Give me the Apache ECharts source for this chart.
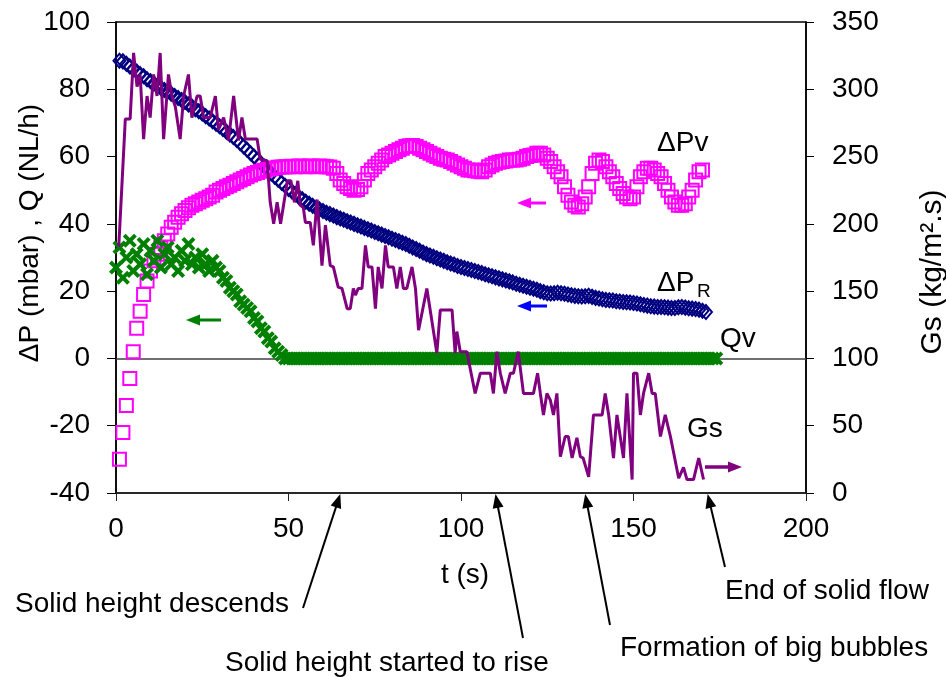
<!DOCTYPE html>
<html><head><meta charset="utf-8">
<script src="https://cdn.jsdelivr.net/npm/echarts@6/dist/echarts.min.js"></script>
<style>html,body{margin:0;padding:0;background:#fff}#c{width:946px;height:677px}</style>
</head><body><div id="c"></div>
<script>
// ---------------- DATA ----------------
// ΔPv (mbar), sampled each second from t = 1 s
const pvStart = 1;
const deltaPv = [
 -30,-22,-14,-6,2,9,14,19,23,26,
 29,31,33,35,37,39,40.5,42,43,44,
 44.8,45.5,46,46.5,47,47.5,48,48.5,49.5,50,
 50.5,51,51.5,52,52.5,53,53.5,54,54.5,55,
 55.3,55.6,55.9,56.2,56.4,56.6,56.8,56.9,57,57,
 57.1,57,57.2,57.1,57,57.2,57.1,57,57.2,57.1,
 57,56.9,56.5,55,53,52,51,50.5,50,50.2,
 51,53,55,56,57,58,59,60,60.5,61,
 61.5,62,62.5,63,63.2,63.3,63,62.5,62,61.5,
 61,60.5,60,59.5,59.2,59,58.5,58,57.5,57,
 56.5,56,56,55.8,55.6,55.5,56,57,57.5,58,
 58.3,58.5,58.7,59,59,59,59.2,59.5,60,60.3,
 60.5,61,61,60.5,59.5,58.5,57,55.5,54,51,
 48.5,46.5,45.5,45,46,48,51,55,58,59,
 58.5,57,55.5,54,52,50.5,49,48,47.5,48,
 51,54,55.5,56.5,56.5,56,55,54,52,50,
 48,46.5,45.5,45.5,46,48,50,53,55.5,56
];
// ΔPR (mbar), sampled each second from t = 1 s
const prStart = 1;
const deltaPR = [
 88.5,88.3,87.6,86.8,86.0,85.3,84.5,83.9,83.0,82.4,
 81.7,81.0,80.4,79.8,79.3,78.7,78.0,77.4,76.8,76.2,
 75.5,74.9,74.1,73.5,72.8,72.0,71.3,70.5,69.8,69.0,
 68.2,67.4,66.6,65.8,64.9,64.0,63.0,62.0,61.0,60.0,
 59.0,58.0,57.0,56.0,55.0,54.0,53.1,52.2,51.3,50.4,
 49.6,48.8,48.0,47.3,46.6,46.0,45.4,44.8,44.3,43.8,
 43.3,42.9,42.5,42.0,41.6,41.2,40.8,40.4,40.0,39.6,
 39.2,38.8,38.4,38.0,37.6,37.2,36.8,36.4,36.0,35.6,
 35.2,34.8,34.4,34.0,33.5,33.0,32.5,32.0,31.5,31.0,
 30.6,30.2,29.8,29.4,29.0,28.6,28.2,27.9,27.5,27.2,
 26.9,26.6,26.3,26.0,25.7,25.4,25.0,24.7,24.4,24.1,
 23.8,23.5,23.2,22.9,22.6,22.2,21.9,21.6,21.3,21.0,
 20.7,20.4,20.0,19.7,19.4,19.3,19.4,19.5,19.4,19.2,
 19.0,18.8,18.6,18.5,18.4,18.5,18.6,18.3,18.0,17.8,
 17.6,17.4,17.3,17.2,17.0,16.9,16.8,16.7,16.6,16.5,
 16.3,16.1,15.9,15.7,15.5,15.4,15.3,15.3,15.2,15.1,
 15.0,15.0,15.2,15.3,15.1,14.9,14.8,14.7,14.5,14.2,
 13.8
];
// Qv (NL/h), sampled each second from t = 0 s
const qvStart = 0;
const qv = [
 27,33,24,30,35,26,31,28,34,25,
 32,29,35,27,31,33,28,30,26,32,
 29,34,28,30,27,31,28,26,29,27,
 26,24,23,21,20,19,17,16,15,14,
 12,11,9,8,6,5,3,2,1,
 0,0,0,0,0,0,0,0,0,0,0,0,0,0,0,0,0,0,0,0,
 0,0,0,0,0,0,0,0,0,0,0,0,0,0,0,0,0,0,0,0,
 0,0,0,0,0,0,0,0,0,0,0,0,0,0,0,0,0,0,0,0,
 0,0,0,0,0,0,0,0,0,0,0,0,0,0,0,0,0,0,0,0,
 0,0,0,0,0,0,0,0,0,0,0,0,0,0,0,0,0,0,0,0,
 0,0,0,0,0,0,0,0,0,0,0,0,0,0,0,0,0,0,0,0,
 0,0,0,0,0,0
];
// Gs (kg/m².s) read at irregular times
const gsTime = [
 0.8,2.7,4.1,5.1,6.1,7.0,8.0,9.0,9.9,10.9,11.9,12.8,13.8,15.2,16.2,17.2,18.6,19.6,21.0,22.0,
 23.5,24.4,25.4,27.3,28.8,29.7,31.2,32.6,34.1,35.5,36.5,37.5,40.9,41.8,43.8,44.7,45.7,46.7,47.7,48.7,
 49.7,50.7,51.7,52.7,53.4,54.3,54.9,56.3,57.2,58.3,59.7,60.7,62.1,63.0,64.4,65.5,67.0,67.9,68.8,69.4,
 70.2,71.3,72.3,73.1,74.2,75.2,76.0,77.1,78.1,78.9,80.4,81.4,82.4,83.3,84.3,85.8,86.8,87.7,90.1,93.0,
 94.0,97.4,98.3,98.8,99.8,101.7,104.1,105.6,108.5,109.4,110.4,111.4,112.8,114.3,115.2,116.6,118.1,121.0,122.2,123.0,
 123.9,124.9,125.9,126.8,127.8,128.8,130.2,131.1,132.2,133.6,134.6,135.4,137.0,138.4,140.9,141.8,142.8,144.2,145.2,147.1,
 148.1,149.6,150.0,151.0,152.0,152.9,154.4,155.4,156.3,157.8,159.2,160.7,161.2,163.1,164.5,165.5,167.4,168.9,170.3
];
const gsValue = [
 183,278,278,327,302,311,263,295,279,311,295,327,263,311,295,287,263,295,311,279,
 295,295,279,279,295,270,279,262,295,262,279,263,263,248,247,216,200,216,200,216,
 232,232,216,232,214,212,201,201,184,218,169,199,169,168,153,152,137,137,152,147,
 152,152,184,168,168,137,168,152,184,168,168,152,168,152,152,168,152,121,152,104,
 136,136,104,120,105,105,74,89,89,74,105,89,74,89,89,105,74,74,89,74,
 58,74,69,58,74,27,42,42,26,41,27,26,12,58,58,74,58,26,58,26,
 74,10,89,89,58,74,89,74,74,42,58,42,42,11,19,10,10,26,10
];
// annotation arrows: time (s) each arrow points at
const noteTimes = [65, 110, 136, 171.5];
const noteTexts = ['Solid height descends', 'Solid height started to rise', 'Formation of big bubbles', 'End of solid flow'];

// ---------------- CHART ----------------
const FONT = '"Liberation Sans", Arial, sans-serif';
const pairs = (t0, arr) => arr.map((v, i) => [t0 + i, v]);
const chart = echarts.init(document.getElementById('c'), null, {renderer: 'canvas'});
const lbl = {color: '#000', fontSize: 28, fontFamily: FONT};
const xPath = 'path://M0,2L2,0L5,3L8,0L10,2L7,5L10,8L8,10L5,7L2,10L0,8L3,5Z';

chart.setOption({
  animation: false,
  backgroundColor: '#fff',
  grid: {left: 116, right: 140, top: 22, bottom: 184, show: true, borderColor: '#000', borderWidth: 1.5, backgroundColor: 'transparent'},
  xAxis: {
    type: 'value', min: 0, max: 200, interval: 50,
    axisLine: {onZero: false, lineStyle: {color: '#222', width: 1.5}},
    axisTick: {show: true, length: 8, lineStyle: {color: '#222', width: 1}},
    axisLabel: Object.assign({margin: 22}, lbl),
    splitLine: {show: false}
  },
  yAxis: [
    {type: 'value', min: -40, max: 100, interval: 20, position: 'left',
     axisLine: {show: true, onZero: false, lineStyle: {color: '#000', width: 1.5}},
     axisTick: {show: true, length: 9, lineStyle: {color: '#000', width: 1}},
     axisLabel: Object.assign({margin: 26}, lbl), splitLine: {show: false}},
    {type: 'value', min: 0, max: 350, interval: 50, position: 'right',
     axisLine: {show: true, onZero: false, lineStyle: {color: '#000', width: 1.5}},
     axisTick: {show: true, length: 8, lineStyle: {color: '#000', width: 1}},
     axisLabel: Object.assign({margin: 26}, lbl), splitLine: {show: false}},
    {type: 'value', min: 0, max: 350, interval: 50, position: 'right',
     axisLine: {show: false},
     axisTick: {show: true, inside: true, length: 8, lineStyle: {color: '#000', width: 1}},
     axisLabel: {show: false}, splitLine: {show: false}}
  ],
  series: [
    {name: 'ΔPR', type: 'scatter', yAxisIndex: 0, data: pairs(prStart, deltaPR),
     symbol: 'diamond', symbolSize: [12, 14],
     itemStyle: {color: 'transparent', borderColor: '#000080', borderWidth: 2, opacity: 1}, z: 2},
    {name: 'ΔPv', type: 'scatter', yAxisIndex: 0, data: pairs(pvStart, deltaPv),
     symbol: 'rect', symbolSize: 13,
     itemStyle: {color: 'transparent', borderColor: '#FF00FF', borderWidth: 2, opacity: 1}, z: 3},
    {name: 'Qv', type: 'scatter', yAxisIndex: 0, data: pairs(qvStart, qv),
     symbol: xPath, symbolSize: 14, itemStyle: {color: '#008000', opacity: 1}, z: 4,
     markLine: {silent: true, symbol: 'none', label: {show: false},
       lineStyle: {color: '#404040', width: 1.5, type: 'solid'}, data: [{yAxis: 0}], z: 1}},
    {name: 'Gs', type: 'line', yAxisIndex: 1, data: gsTime.map((t, i) => [t, gsValue[i]]),
     showSymbol: false, symbol: 'none', lineStyle: {color: '#800080', width: 3, opacity: 1}, z: 5}
  ]
});

// ---------------- ANNOTATIONS ----------------
function arrow(x1, y1, x2, y2, color, w, hl, hw) {
  const dx = x2 - x1, dy = y2 - y1, L = Math.hypot(dx, dy), ux = dx / L, uy = dy / L;
  const bx = x2 - ux * hl, by = y2 - uy * hl, px = -uy, py = ux;
  return [
    {type: 'line', silent: true, z: 50, shape: {x1: x1, y1: y1, x2: bx + ux, y2: by + uy}, style: {stroke: color, lineWidth: w}},
    {type: 'polygon', silent: true, z: 50, shape: {points: [[x2, y2], [bx + px * hw / 2, by + py * hw / 2], [bx - px * hw / 2, by - py * hw / 2]]}, style: {fill: color}}
  ];
}
function text(str, x, y, align, rot, size) {
  return {type: 'text', silent: true, z: 50, x: x, y: y, rotation: rot || 0,
    style: {text: str, fill: '#000', font: (size || 28) + 'px ' + FONT, align: align, verticalAlign: 'middle', textAlign: align, textVerticalAlign: 'middle'}};
}
const axisBottom = chart.convertToPixel({yAxisIndex: 0}, -40);
const tails = [[303, 608], [523, 638], [610, 625], [725, 567]];
const els = [];
noteTimes.forEach((t, i) => {
  const x = chart.convertToPixel({xAxisIndex: 0}, t);
  els.push(...arrow(tails[i][0], tails[i][1], x, axisBottom + 1, '#000', 2, 14, 11));
});
els.push(text(noteTexts[0], 15, 604, 'left'));
els.push(text(noteTexts[1], 225, 663, 'left'));
els.push(text(noteTexts[2], 620, 648, 'left'));
els.push(text(noteTexts[3], 725, 591, 'left'));
els.push(text('t (s)', 465, 575, 'center'));
els.push(text('ΔP (mbar) , Q (NL/h)', 30, 233, 'center', Math.PI / 2));
els.push(text('Gs (kg/m².s)', 933, 272, 'center', Math.PI / 2, 30));
// in-plot series labels
els.push(text('ΔPv', 657, 143, 'left'));
els.push(text('ΔP', 657, 283, 'left'));
els.push({type: 'text', silent: true, z: 50, x: 697, y: 292, style: {text: 'R', fill: '#000', font: '19px ' + FONT, align: 'left', verticalAlign: 'middle'}});
els.push(text('Qv', 720, 339, 'left'));
els.push(text('Gs', 687, 429, 'left'));
// small colored direction arrows
els.push(...arrow(546, 203, 517, 203, '#FF00FF', 3, 14, 11));
els.push(...arrow(547, 306, 517, 306, '#0000FF', 3, 14, 11));
els.push(...arrow(221, 320, 186, 320, '#008000', 3, 14, 11));
els.push(...arrow(705, 467, 742, 467, '#800080', 3.5, 14, 11));
chart.setOption({graphic: {elements: els}});
</script>
</body></html>
